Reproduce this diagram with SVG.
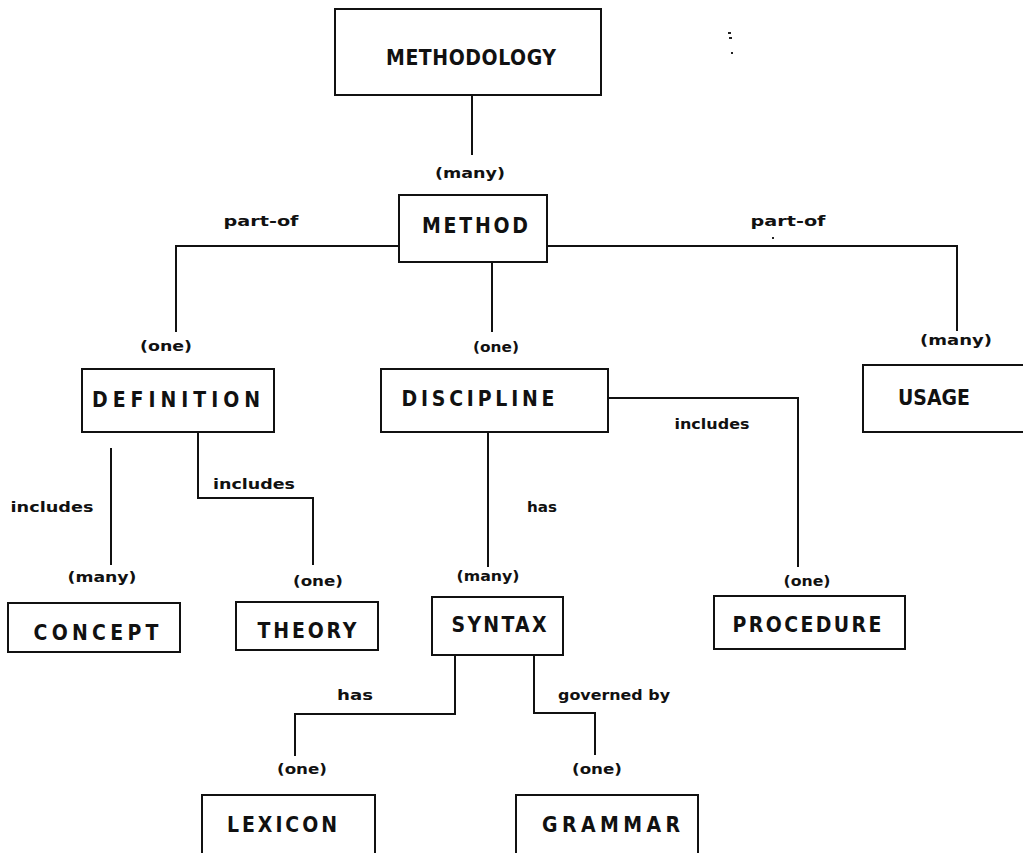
<svg xmlns="http://www.w3.org/2000/svg" width="1023" height="853" viewBox="0 0 1023 853">
  <style>
    .box { fill: #ffffff; stroke: #111111; stroke-width: 2; }
    .name { font-family: "DejaVu Sans Condensed", "DejaVu Sans", "Liberation Sans", sans-serif; font-weight: bold; font-size: 21px; fill: #111111; text-anchor: middle; }
    .lbl { font-family: "DejaVu Sans", "Liberation Sans", sans-serif; font-weight: bold; font-size: 14px; fill: #111111; text-anchor: middle; }
    .wire { fill: none; stroke: #111111; stroke-width: 2; }
    .speck { fill: #222222; }
  </style>
  <rect width="1023" height="853" fill="#ffffff"/>

  <!-- connectors -->
  <g id="connectors">
    <polyline class="wire" points="472,95 472,155"/>
    <polyline class="wire" points="399,246 176,246 176,332"/>
    <polyline class="wire" points="492,262 492,332"/>
    <polyline class="wire" points="547,246 957,246 957,331"/>
    <polyline class="wire" points="111,448 111,565"/>
    <polyline class="wire" points="198,432 198,498 313,498 313,565"/>
    <polyline class="wire" points="488,432 488,567"/>
    <polyline class="wire" points="608,398 798,398 798,567"/>
    <polyline class="wire" points="455,655 455,714 295,714 295,756"/>
    <polyline class="wire" points="534,655 534,713 595,713 595,755"/>

    <text class="lbl" x="470" y="178" textLength="70" lengthAdjust="spacingAndGlyphs">(many)</text>
    <text class="lbl" x="261" y="226" textLength="75" lengthAdjust="spacingAndGlyphs">part-of</text>
    <text class="lbl" x="788" y="226" textLength="75" lengthAdjust="spacingAndGlyphs">part-of</text>
    <text class="lbl" x="166" y="351" textLength="52" lengthAdjust="spacingAndGlyphs">(one)</text>
    <text class="lbl" x="496" y="352" textLength="46" lengthAdjust="spacingAndGlyphs">(one)</text>
    <text class="lbl" x="956" y="345" textLength="72" lengthAdjust="spacingAndGlyphs">(many)</text>
    <text class="lbl" x="52" y="512" textLength="83" lengthAdjust="spacingAndGlyphs">includes</text>
    <text class="lbl" x="254" y="489" textLength="82" lengthAdjust="spacingAndGlyphs">includes</text>
    <text class="lbl" x="712" y="429" textLength="75" lengthAdjust="spacingAndGlyphs">includes</text>
    <text class="lbl" x="542" y="512" textLength="30" lengthAdjust="spacingAndGlyphs">has</text>
    <text class="lbl" x="102" y="582" textLength="69" lengthAdjust="spacingAndGlyphs">(many)</text>
    <text class="lbl" x="318" y="586" textLength="50" lengthAdjust="spacingAndGlyphs">(one)</text>
    <text class="lbl" x="488" y="581" textLength="63" lengthAdjust="spacingAndGlyphs">(many)</text>
    <text class="lbl" x="807" y="586" textLength="47" lengthAdjust="spacingAndGlyphs">(one)</text>
    <text class="lbl" x="355" y="700" textLength="36" lengthAdjust="spacingAndGlyphs">has</text>
    <text class="lbl" x="614" y="700" textLength="112" lengthAdjust="spacingAndGlyphs">governed by</text>
    <text class="lbl" x="302" y="774" textLength="50" lengthAdjust="spacingAndGlyphs">(one)</text>
    <text class="lbl" x="597" y="774" textLength="50" lengthAdjust="spacingAndGlyphs">(one)</text>
  </g>

  <!-- nodes -->
  <g id="methodology">
    <rect class="box" x="335" y="9" width="266" height="86"/>
    <text class="name" x="471" y="65" textLength="170" lengthAdjust="spacing">METHODOLOGY</text>
  </g>
  <g id="method">
    <rect class="box" x="399" y="195" width="148" height="67"/>
    <text class="name" x="475" y="233" textLength="106" lengthAdjust="spacing">METHOD</text>
  </g>
  <g id="definition">
    <rect class="box" x="82" y="369" width="192" height="63"/>
    <text class="name" x="176" y="407" textLength="168" lengthAdjust="spacing">DEFINITION</text>
  </g>
  <g id="discipline">
    <rect class="box" x="381" y="369" width="227" height="63"/>
    <text class="name" x="478" y="406" textLength="153" lengthAdjust="spacing">DISCIPLINE</text>
  </g>
  <g id="usage">
    <rect class="box" x="863" y="365" width="170" height="67"/>
    <text class="name" x="934" y="405" textLength="72" lengthAdjust="spacing">USAGE</text>
  </g>
  <g id="concept">
    <rect class="box" x="8" y="603" width="172" height="49"/>
    <text class="name" x="96" y="640" textLength="125" lengthAdjust="spacing">CONCEPT</text>
  </g>
  <g id="theory">
    <rect class="box" x="236" y="602" width="142" height="48"/>
    <text class="name" x="307" y="638" textLength="99" lengthAdjust="spacing">THEORY</text>
  </g>
  <g id="syntax">
    <rect class="box" x="432" y="597" width="131" height="58"/>
    <text class="name" x="499" y="632" textLength="95" lengthAdjust="spacing">SYNTAX</text>
  </g>
  <g id="procedure">
    <rect class="box" x="714" y="596" width="191" height="53"/>
    <text class="name" x="807" y="632" textLength="149" lengthAdjust="spacing">PROCEDURE</text>
  </g>
  <g id="lexicon">
    <rect class="box" x="202" y="795" width="173" height="80"/>
    <text class="name" x="282" y="832" textLength="110" lengthAdjust="spacing">LEXICON</text>
  </g>
  <g id="grammar">
    <rect class="box" x="516" y="795" width="182" height="80"/>
    <text class="name" x="611" y="832" textLength="138" lengthAdjust="spacing">GRAMMAR</text>
  </g>

  <!-- loose specks on the sheet -->
  <rect class="speck" x="728" y="32" width="3" height="2"/>
  <rect class="speck" x="729" y="37" width="3" height="2"/>
  <rect class="speck" x="731" y="52" width="2" height="2"/>
  <rect class="speck" x="772" y="237" width="2" height="2"/>
</svg>
